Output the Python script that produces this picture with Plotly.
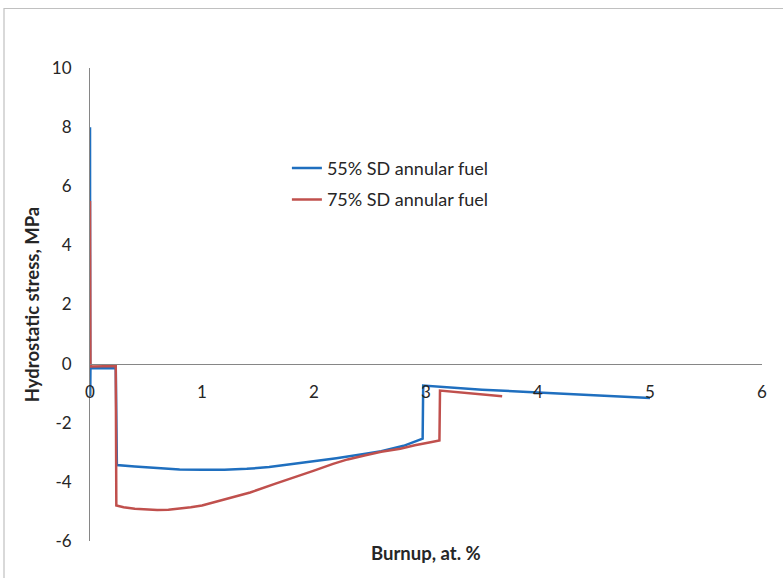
import plotly.graph_objects as go

# Burnup (at. %) and hydrostatic stress (MPa)
burnup_55 = [0.0, 0.001, 0.002, 0.004, 0.23, 0.24, 0.4, 0.6, 0.8, 1.0, 1.2, 1.4, 1.6, 1.875, 2.0, 2.2,
             2.46, 2.6, 2.8, 2.97, 2.975, 3.5, 4.0, 4.5, 5.0]
stress_55 = [8.0, 5.5, -1.1, -0.16, -0.16, -3.43, -3.48, -3.54, -3.58, -3.59, -3.59, -3.56, -3.5, -3.36, -3.3, -3.2,
             -3.05, -2.96, -2.78, -2.54, -0.74, -0.88, -0.98, -1.07, -1.16]

burnup_75 = [0.0, 0.002, 0.004, 0.01, 0.23, 0.235, 0.3, 0.4, 0.5, 0.6, 0.7, 0.8, 0.9, 1.0, 1.2, 1.43, 1.65,
             1.875, 2.0, 2.17, 2.3, 2.46, 2.6, 2.77, 2.9, 3.04, 3.12, 3.125, 3.4, 3.68]
stress_75 = [5.5, 1.6, 0.0, -0.1, -0.08, -4.8, -4.86, -4.91, -4.94, -4.95, -4.94, -4.91, -4.86, -4.8, -4.6, -4.36, -4.07,
             -3.79, -3.62, -3.39, -3.24, -3.1, -2.98, -2.88, -2.76, -2.66, -2.6, -0.91, -1.0, -1.1]

series_names = ["55% SD annular fuel", "75% SD annular fuel"]
series_colors = ["#1F6FBF", "#C0504D"]

x_ticks = [0, 1, 2, 3, 4, 5, 6]
y_ticks = [-6, -4, -2, 0, 2, 4, 6, 8, 10]
y_tick_text = ["-6", "-4", "-2", "0", "2", "4", "6", "8", "10"]

FONT = "Lato"
TXT = "#262626"

fig = go.Figure()
fig.add_trace(go.Scatter(x=burnup_55, y=stress_55, mode="lines", name=series_names[0],
                         legendgroup="a", line=dict(color=series_colors[0], width=2.5)))
fig.add_trace(go.Scatter(x=burnup_75, y=stress_75, mode="lines", name=series_names[1],
                         legendgroup="b", line=dict(color=series_colors[1], width=2.5)))

axis_color = "#868686"
fig.update_layout(
    width=783, height=578,
    margin=dict(l=90, r=21, t=68, b=37),
    paper_bgcolor="white", plot_bgcolor="white",
    font=dict(family=FONT, size=17, color=TXT),
    showlegend=True,
    legend=dict(x=0.293, y=0.827, xanchor="left", yanchor="top",
                bgcolor="rgba(0,0,0,0)", font=dict(family=FONT, size=18, color=TXT),
                tracegroupgap=5, traceorder="grouped"),
    xaxis=dict(range=[0, 6], tickvals=x_ticks, showgrid=False, zeroline=False,
               showline=True, linecolor=axis_color, linewidth=1, ticks="",
               anchor="free", position=0.375, ticklabelstandoff=13,
               tickfont=dict(family=FONT, size=17, color=TXT)),
    yaxis=dict(range=[-6, 10], tickvals=y_ticks, ticktext=y_tick_text, showgrid=False,
               zeroline=False, showline=True, linecolor=axis_color, linewidth=1, ticks="",
               ticklabelstandoff=14, tickfont=dict(family=FONT, size=17, color=TXT),
               title=dict(text="<b>Hydrostatic stress, MPa</b>", standoff=7,
                          font=dict(family=FONT, size=18.5, color=TXT))),
    annotations=[dict(text="<b>Burnup, at. %</b>", xref="paper", yref="paper",
                      x=0.5, y=-0.025, xanchor="center", yanchor="middle", showarrow=False,
                      font=dict(family=FONT, size=18.5, color=TXT))],
    shapes=[dict(type="rect", xref="paper", yref="paper",
                 x0=(4 - 90) / 672, x1=(800 - 90) / 672,
                 y0=(541 - 600) / 473, y1=(541 - 8.5) / 473,
                 line=dict(color="#C0C0C0", width=1.2), fillcolor="rgba(0,0,0,0)", layer="below")],
)

fig.write_html("out.html")
